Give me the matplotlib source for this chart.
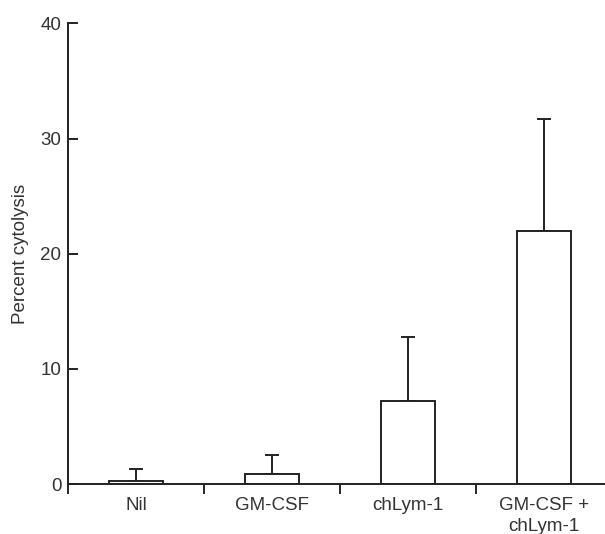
import matplotlib.pyplot as plt
import numpy as np

plt.rcParams['font.family'] = ['Liberation Sans', 'DejaVu Sans']

# Cytolysis by treatment group (mean and upper SD)
groups = ['Nil', 'GM-CSF', 'chLym-1', 'GM-CSF +\nchLym-1']
cytolysis = [0.3, 0.87, 7.25, 22.0]
err_upper = [1.03, 1.68, 5.55, 9.7]

ink = '#222222'
fs = 13.5

fig = plt.figure(figsize=(6.05, 5.34), dpi=100)
ax = fig.add_axes([0.1129, 0.0936, 0.8987, 0.8624])

x = np.arange(len(groups))
ax.bar(x, cytolysis, width=0.4, color='white', edgecolor=ink, linewidth=1.4, zorder=2)
ax.errorbar(x, cytolysis, yerr=[np.zeros(len(x)), err_upper], fmt='none',
            ecolor=ink, elinewidth=1.4, capsize=4.7, capthick=1.4, zorder=1)

ax.set_xlim(-0.5, 3.5)
ax.set_ylim(0, 40)
ax.set_yticks([0, 10, 20, 30, 40])
ax.set_xticks(x)
ax.set_xticklabels(groups, linespacing=1.35)
ax.set_xticks(np.arange(-0.5, 4, 1.0), minor=True)

for side in ['top', 'right']:
    ax.spines[side].set_visible(False)
for side in ['left', 'bottom']:
    ax.spines[side].set_color(ink)
    ax.spines[side].set_linewidth(1.4)

ax.tick_params(axis='y', direction='in', length=7.2, width=1.4, color=ink,
               labelsize=fs, labelcolor='#333333', pad=5)
ax.tick_params(axis='x', which='major', length=0, labelsize=fs,
               labelcolor='#333333', pad=9)
ax.tick_params(axis='x', which='minor', direction='out', length=7.2,
               width=1.4, color=ink)

ax.set_ylabel('Percent cytolysis', fontsize=fs, color='#333333', labelpad=8)

fig.savefig('out.png', dpi=100)
